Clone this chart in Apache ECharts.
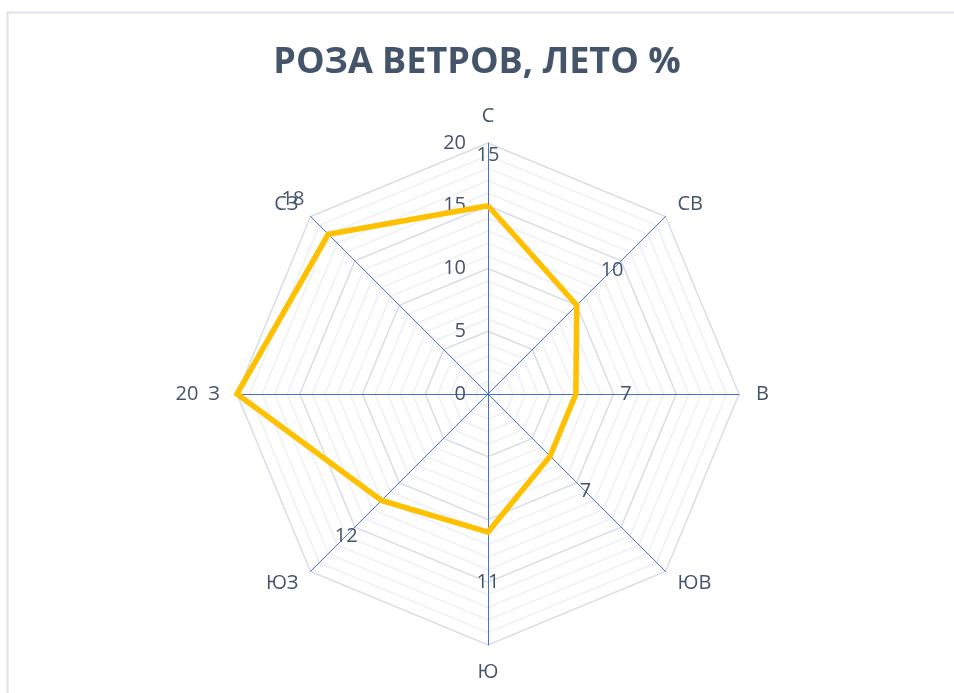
<!DOCTYPE html>
<html>
<head>
<meta charset="utf-8">
<title>Роза ветров</title>
<script src="https://cdn.jsdelivr.net/npm/echarts@6/dist/echarts.min.js"></script>
<style>
  html, body { margin: 0; padding: 0; background: #fff; }
  #main { width: 954px; height: 693px; }
</style>
</head>
<body>
<div id="main"></div>
<script>
// направления ветра (по часовой стрелке от севера)
var directions = ['С', 'СВ', 'В', 'ЮВ', 'Ю', 'ЮЗ', 'З', 'СЗ'];
// повторяемость, % (лето)
var summerValues = [15, 10, 7, 7, 11, 12, 20, 18];
var axisMax = 20;

// echarts radar goes counter-clockwise, so reorder to get a clockwise rose
var order = [0, 7, 6, 5, 4, 3, 2, 1];

var textColor = '#44546a';
var centerX = 488, centerY = 394; // px, same as radar center below
var font = 'Open Sans';

var chart = echarts.init(document.getElementById('main'));

var option = {
    backgroundColor: '#fff',
    title: {
        text: 'РОЗА ВЕТРОВ, ЛЕТО %',
        left: 'center',
        top: 40,
        textStyle: {
            fontFamily: font,
            fontWeight: 'bold',
            fontSize: 36,
            color: textColor
        }
    },
    graphic: [{
        type: 'rect',
        shape: { x: 7.5, y: 12.5, width: 980, height: 720 },
        style: { fill: 'none', stroke: '#dde1e8', lineWidth: 2 },
        silent: true
    }],
    radar: {
        center: [centerX, centerY],
        radius: 251,
        startAngle: 90,
        shape: 'polygon',
        splitNumber: 20,
        indicator: order.map(function (k, i) {
            var ind = { name: directions[k], min: 0, max: axisMax };
            if (i === 0) {
                ind.axisLabel = { show: true };
            }
            return ind;
        }),
        axisName: {
            color: textColor,
            fontFamily: font,
            fontSize: 20
        },
        nameGap: 17,
        axisLine: {
            lineStyle: { color: '#4472c4', width: 1 }
        },
        axisTick: { show: false },
        axisLabel: {
            show: false,
            color: textColor,
            fontFamily: font,
            fontSize: 20,
            margin: 22,
            formatter: function (v) { return v % 5 === 0 ? v : ''; }
        },
        splitLine: {
            lineStyle: {
                color: ['#d9dde5', '#eef0f3', '#eef0f3', '#eef0f3', '#eef0f3'],
                width: 1.5
            }
        },
        splitArea: { show: false }
    },
    series: [{
        type: 'radar',
        symbol: 'circle',
        symbolSize: 2,
        itemStyle: { color: '#ffc000' },
        lineStyle: { color: '#ffc000', width: 5.5, join: 'miter' },
        label: {
            show: true,
            color: textColor,
            fontFamily: font,
            fontSize: 20,
            position: 'inside'
        },
        labelLayout: function (p) {
            var r = p.rect;
            var px = r.x + r.width / 2, py = r.y + r.height / 2;
            var dx = px - centerX, dy = py - centerY;
            var len = Math.sqrt(dx * dx + dy * dy) || 1;
            return {
                x: px + dx / len * 50,
                y: py + dy / len * 50,
                align: 'center',
                verticalAlign: 'middle'
            };
        },
        data: [{ value: order.map(function (k) { return summerValues[k]; }), name: 'Лето' }]
    }]
};

chart.setOption(option);
</script>
</body>
</html>
